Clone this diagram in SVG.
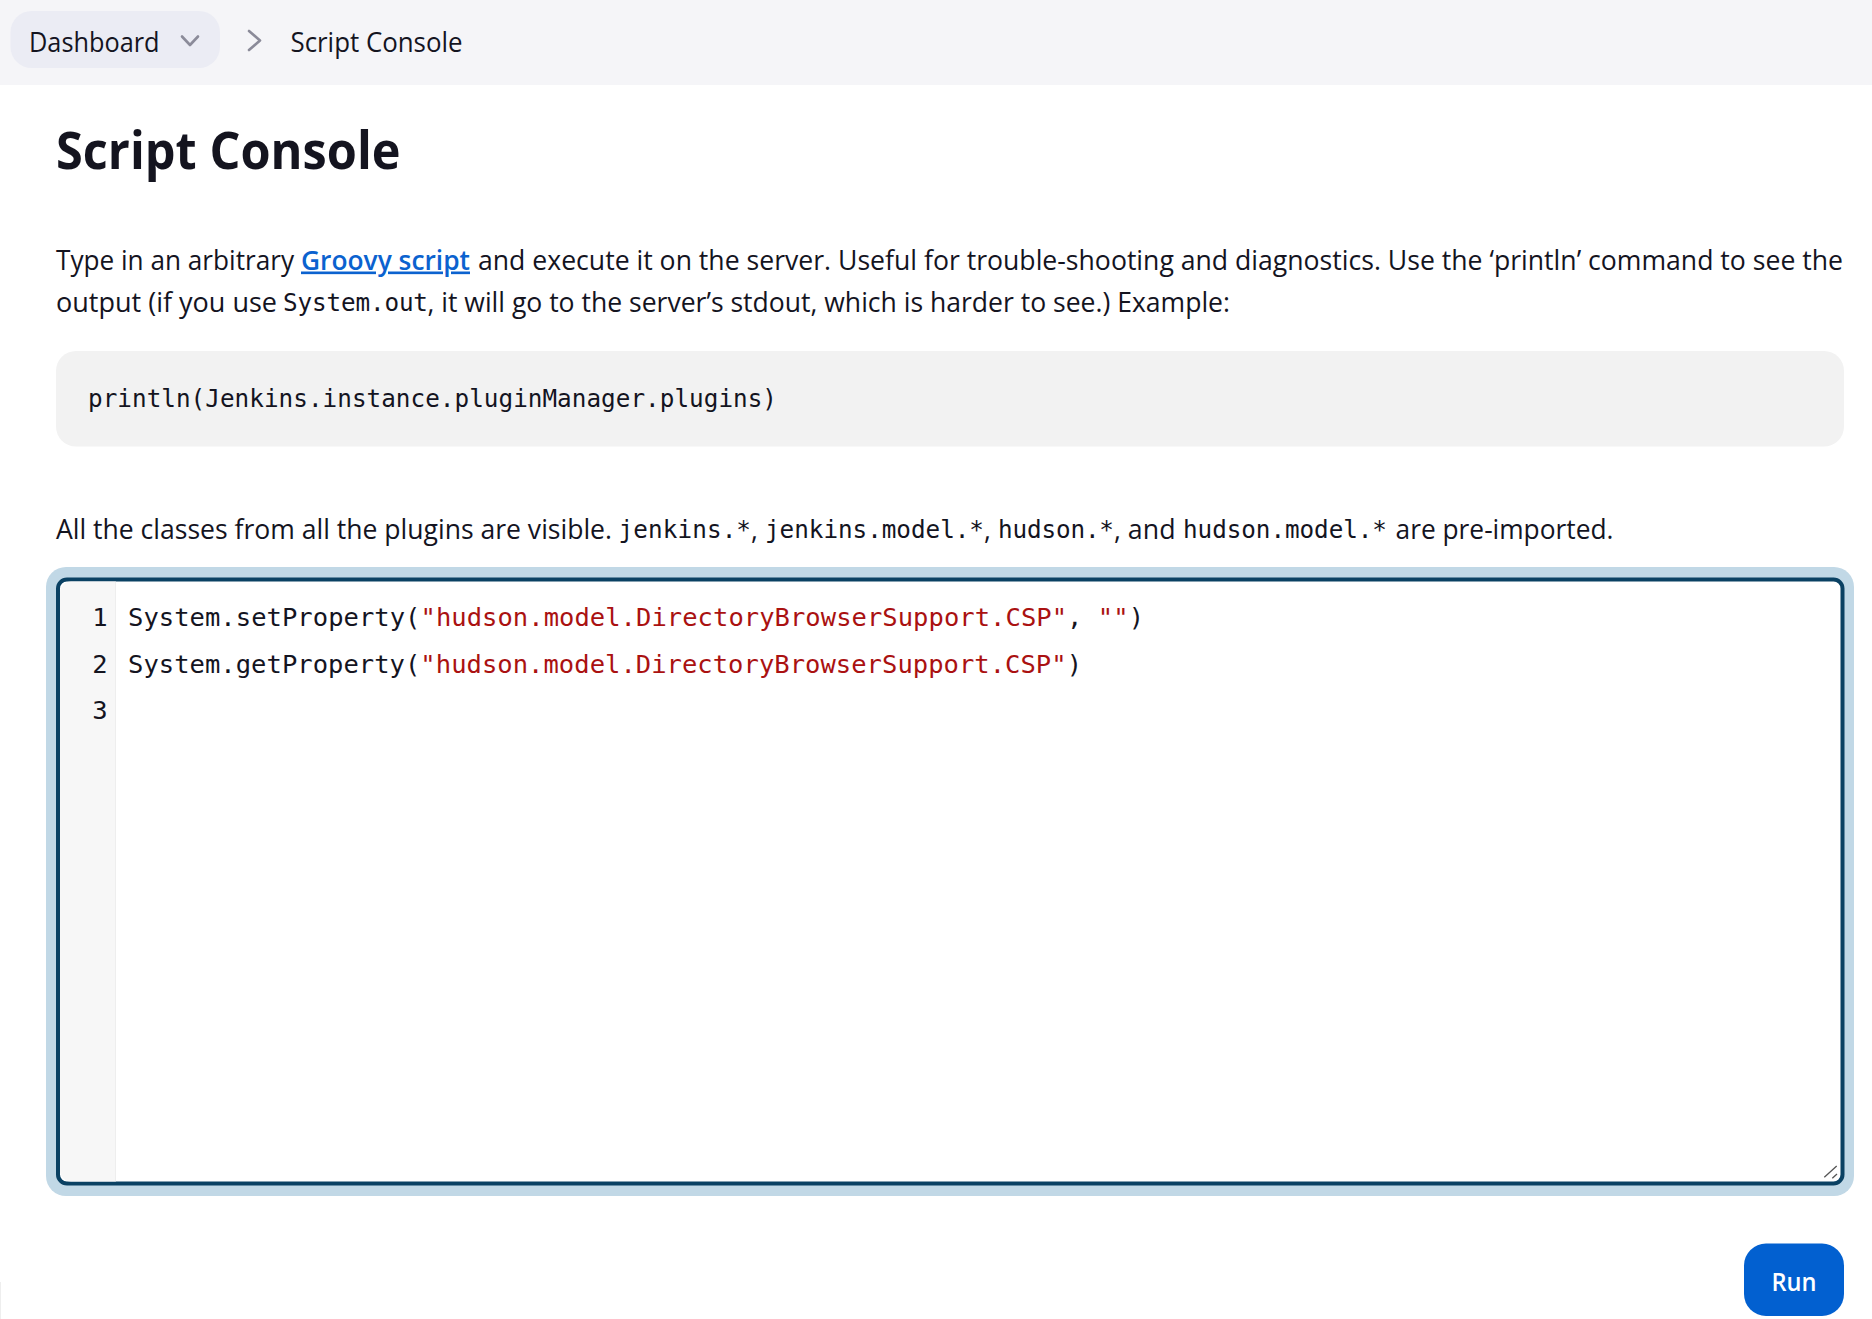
<svg xmlns="http://www.w3.org/2000/svg" width="1872" height="1319" viewBox="0 0 1872 1319">
<style>
text{white-space:pre}
.s{font-family:"Open Sans","Noto Sans","Liberation Sans",sans-serif;font-size:26.5px;fill:#14141f}
.m{font-family:"DejaVu Sans Mono","Liberation Mono",monospace;font-size:24.3px;fill:#14141f}
.c{font-family:"DejaVu Sans Mono","Liberation Mono",monospace;font-size:25.5px;fill:#14141f}
.r{fill:#aa1111}
.chev{fill:none;stroke:#8b8b99;stroke-width:2.6;stroke-linecap:round;stroke-linejoin:round}
</style>
<rect width="1872" height="1319" fill="#ffffff"/>
<rect x="0" y="1282" width="1" height="37" fill="#eeeeee"/>
<g id="breadcrumb-bar">
<rect width="1872" height="85" fill="#f5f5f8"/>
<rect x="10.500" y="11" width="209.500" height="57" rx="21" fill="#ebecf4"/>
<text class="s" x="29" y="51.500" textLength="130.500" lengthAdjust="spacingAndGlyphs">Dashboard</text>
<path class="chev" d="M182 36.500L190 45L198 36.500"/>
<path class="chev" d="M249 31L260 40.500L249 50"/>
<text class="s" x="290.500" y="51.500" textLength="172" lengthAdjust="spacingAndGlyphs">Script Console</text>
</g>
<g id="title">
<text x="56" y="169" textLength="344.500" lengthAdjust="spacingAndGlyphs" style="font-family:'Open Sans','Noto Sans',sans-serif;font-weight:700;font-size:52.500px;fill:#14141f">Script Console</text>
</g>
<g id="intro">
<text class="s" x="56" y="269.500" textLength="238" lengthAdjust="spacingAndGlyphs">Type in an arbitrary</text>
<text class="s" x="301" y="269.500" textLength="169" lengthAdjust="spacingAndGlyphs" style="fill:#0b62cf;font-weight:600;text-decoration:underline">Groovy script</text>
<text class="s" x="478" y="269.500" textLength="1365" lengthAdjust="spacingAndGlyphs">and execute it on the server. Useful for trouble-shooting and diagnostics. Use the ‘println’ command to see the</text>
<text class="s" x="56" y="311.500" textLength="221" lengthAdjust="spacingAndGlyphs">output (if you use</text>
<text class="m" x="283" y="311" textLength="145">System.out</text>
<text class="s" x="427.500" y="311.500" textLength="802.500" lengthAdjust="spacingAndGlyphs">, it will go to the server’s stdout, which is harder to see.) Example:</text>
</g>
<g id="example">
<rect x="56" y="351" width="1788" height="95.500" rx="20" fill="#f2f2f2"/>
<text class="m" x="88" y="407" textLength="689">println(Jenkins.instance.pluginManager.plugins)</text>
</g>
<g id="imports">
<text class="s" x="56" y="538.500" textLength="556" lengthAdjust="spacingAndGlyphs">All the classes from all the plugins are visible.</text>
<text class="m" x="618.500" y="538" textLength="132.500">jenkins.*</text>
<text class="s" x="751" y="538.500">,</text>
<text class="m" x="765" y="538" textLength="219">jenkins.model.*</text>
<text class="s" x="984" y="538.500">,</text>
<text class="m" x="998" y="538" textLength="116">hudson.*</text>
<text class="s" x="1114" y="538.500" textLength="61.500" lengthAdjust="spacingAndGlyphs">, and</text>
<text class="m" x="1183" y="538" textLength="204">hudson.model.*</text>
<text class="s" x="1395.500" y="538.500" textLength="218" lengthAdjust="spacingAndGlyphs">are pre-imported.</text>
</g>
<g id="editor">
<rect x="46" y="567" width="1808" height="629" rx="20" fill="#c1d8e6"/>
<rect x="58" y="579.500" width="1784.500" height="604" rx="9" fill="#ffffff" stroke="#0a4163" stroke-width="4"/>
<path d="M60 592.500a11 11 0 0 1 11-11H115V1181.500H71a11 11 0 0 1-11-11Z" fill="#f7f7f7"/>
<rect x="115" y="581.500" width="1" height="600" fill="#eeeeee"/>
<text class="c" x="107.500" y="626" text-anchor="end">1</text>
<text class="c" x="107.500" y="673" text-anchor="end">2</text>
<text class="c" x="107.500" y="719" text-anchor="end">3</text>
<text class="c" x="128" y="626" textLength="1016">System.setProperty(<tspan class="r">"hudson.model.DirectoryBrowserSupport.CSP"</tspan>, <tspan class="r">""</tspan>)</text>
<text class="c" x="128" y="673" textLength="954">System.getProperty(<tspan class="r">"hudson.model.DirectoryBrowserSupport.CSP"</tspan>)</text>
<path d="M1824.300 1177.300L1836.700 1166M1832.300 1178.300L1837 1174" fill="none" stroke="#555" stroke-width="1.300"/>
</g>
<g id="run-button">
<rect x="1744" y="1243.500" width="100" height="72.500" rx="22" fill="#0260d0"/>
<text x="1794" y="1291" text-anchor="middle" textLength="45" lengthAdjust="spacingAndGlyphs" style="font-family:'Open Sans','Noto Sans',sans-serif;font-weight:600;font-size:26px;fill:#ffffff">Run</text>
</g>
</svg>
